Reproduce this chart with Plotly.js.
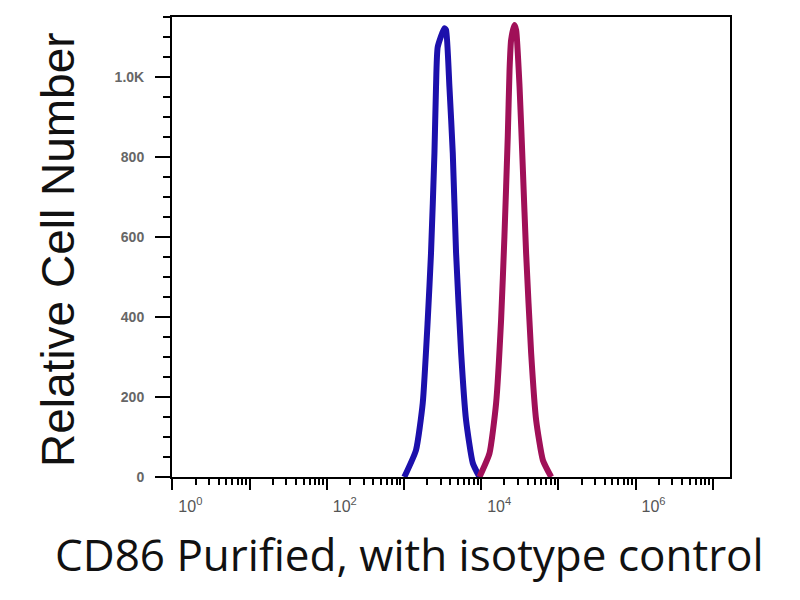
<!DOCTYPE html>
<html>
<head>
<meta charset="utf-8">
<script src="https://cdn.plot.ly/plotly-3.0.1.min.js"></script>
<style>html,body{margin:0;padding:0;background:#fff;}#chart{width:800px;height:600px;}</style>
</head>
<body>
<div id="chart"></div>
<script>
// Isotype control (blue) histogram: fluorescence intensity vs. relative cell count
const isoX = [1010, 1430, 1750, 2030, 2240, 2480, 2600, 2735, 3340, 3510, 3880, 4285, 4730, 5500, 6370, 7780, 9500];
const isoY = [0, 67, 185, 392, 560, 810, 975, 1075, 1122, 1117, 975, 810, 560, 310, 142, 35, 0];

// CD86 Purified (crimson) histogram
const cd86X = [9500, 12800, 15600, 18100, 20000, 22100, 23300, 24400, 27000, 28400, 31400, 34700, 38200, 44400, 51500, 63000, 80700];
const cd86Y = [0, 59, 184, 392, 601, 851, 1017, 1092, 1130, 1117, 976, 767, 559, 309, 142, 42, 0];

// Axis tick definitions
const xTickVals = [1, 10, 100, 1000, 10000, 100000, 1000000, 10000000];
const xTickText = ['10<sup>0</sup>', '', '10<sup>2</sup>', '', '10<sup>4</sup>', '', '10<sup>6</sup>', ''];
const yTickVals = [0, 200, 400, 600, 800, 1000];
const yTickText = ['0', '200', '400', '600', '800', '1.0K'];

// Titles
const xTitle = 'CD86 Purified, with isotype control';
const yTitle = 'Relative Cell Number';

const traces = [
  {x: isoX, y: isoY, type: 'scatter', mode: 'lines', name: 'Isotype control',
   line: {color: '#1c10ac', width: 6, shape: 'spline', smoothing: 0.5}},
  {x: cd86X, y: cd86Y, type: 'scatter', mode: 'lines', name: 'CD86 Purified',
   line: {color: '#a01058', width: 6, shape: 'spline', smoothing: 0.5}}
];

const layout = {
  width: 800, height: 600,
  margin: {l: 172, r: 70, t: 17, b: 123, pad: 0},
  paper_bgcolor: '#ffffff', plot_bgcolor: '#ffffff',
  showlegend: false,
  xaxis: {
    type: 'log', range: [-0.005, 7.223],
    tickmode: 'array', tickvals: xTickVals, ticktext: xTickText,
    ticks: 'outside', ticklen: 11, tickwidth: 2, tickcolor: '#000',
    minor: {dtick: 'D1', ticks: 'outside', ticklen: 6, tickwidth: 2, tickcolor: '#000'},
    ticklabelshift: 18, ticklabelstandoff: 3,
    showline: true, linecolor: '#000', linewidth: 2, mirror: true,
    showgrid: false, zeroline: false,
    tickfont: {family: 'Liberation Sans, Arial, sans-serif', size: 16, color: '#555'}
  },
  yaxis: {
    range: [0, 1150],
    tickmode: 'array', tickvals: yTickVals, ticktext: yTickText,
    ticks: 'outside', ticklen: 15, tickwidth: 2, tickcolor: '#000',
    minor: {dtick: 50, ticks: 'outside', ticklen: 7, tickwidth: 2, tickcolor: '#000'},
    ticklabelstandoff: 8,
    showline: true, linecolor: '#000', linewidth: 2, mirror: true,
    showgrid: false, zeroline: false,
    tickfont: {family: 'Liberation Sans, Arial, sans-serif', size: 14, color: '#666', weight: 'bold'}
  },
  annotations: [
    {text: xTitle, xref: 'paper', yref: 'paper', x: 0.4265, y: -0.168,
     xanchor: 'center', yanchor: 'middle', showarrow: false,
     font: {family: 'Open Sans, sans-serif', size: 44, color: '#111'}},
    {text: yTitle, xref: 'paper', yref: 'paper', x: -0.2043, y: 0.4935,
     xanchor: 'center', yanchor: 'middle', showarrow: false, textangle: -90,
     font: {family: 'Liberation Sans, Arial, sans-serif', size: 46, color: '#111'}}
  ]
};

Plotly.newPlot('chart', traces, layout, {displayModeBar: false, staticPlot: true});
</script>
</body>
</html>
